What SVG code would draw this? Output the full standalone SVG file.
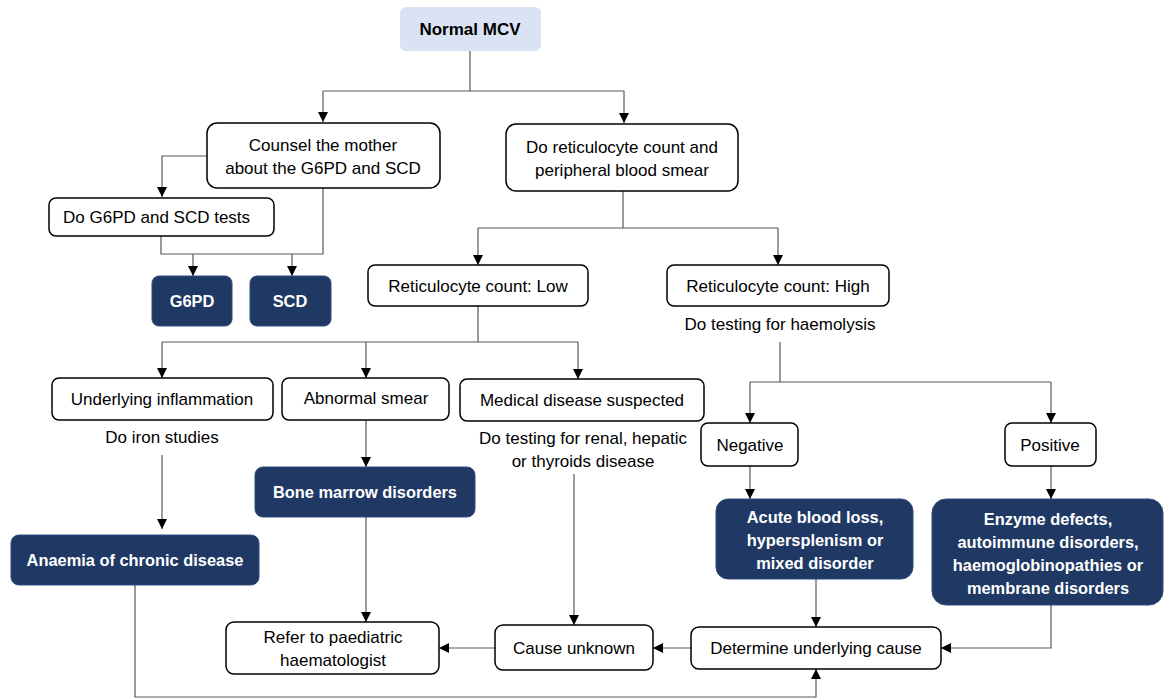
<svg xmlns="http://www.w3.org/2000/svg" width="1164" height="699" viewBox="0 0 1164 699">
  <style>
    .box { fill: #ffffff; stroke: #000000; stroke-width: 1.5; }
    .dark { fill: #203864; stroke: #2f4b7c; stroke-width: 1; }
    .top { fill: #dae3f3; stroke: none; }
    .t { font-family: "Liberation Sans", Arial, sans-serif; font-size: 17px; fill: #000000; text-anchor: middle; dominant-baseline: central; }
    .tb { font-family: "Liberation Sans", Arial, sans-serif; font-size: 16.4px; font-weight: bold; fill: #ffffff; text-anchor: middle; dominant-baseline: central; }
    .tk { font-family: "Liberation Sans", Arial, sans-serif; font-size: 17px; font-weight: bold; fill: #000000; text-anchor: middle; dominant-baseline: central; }
    .c { fill: none; stroke: #595959; stroke-width: 1.2; }
  </style>
  <defs>
    <marker id="arr" viewBox="0 0 10 10" refX="10" refY="5" markerWidth="10" markerHeight="10" markerUnits="userSpaceOnUse" orient="auto">
      <path d="M0,0 L10,5 L0,10 z" fill="#000000"/>
    </marker>
  </defs>

  <!-- connectors -->
  <g id="connectors">
    <path class="c" d="M470,51 V91 M323,91 H624"/>
    <path class="c" d="M323,91 V122" marker-end="url(#arr)"/>
    <path class="c" d="M624,91 V123" marker-end="url(#arr)"/>
    <path class="c" d="M207,156 H162 V197" marker-end="url(#arr)"/>
    <path class="c" d="M161,236 V254 H323 V188"/>
    <path class="c" d="M193,254 V276" marker-end="url(#arr)"/>
    <path class="c" d="M292,254 V276" marker-end="url(#arr)"/>
    <path class="c" d="M623,191 V228 M478,228 H778"/>
    <path class="c" d="M478,228 V265" marker-end="url(#arr)"/>
    <path class="c" d="M778,228 V265" marker-end="url(#arr)"/>
    <path class="c" d="M478,306 V342 M162,342 H578"/>
    <path class="c" d="M162,342 V378" marker-end="url(#arr)"/>
    <path class="c" d="M366,342 V378" marker-end="url(#arr)"/>
    <path class="c" d="M578,342 V379" marker-end="url(#arr)"/>
    <path class="c" d="M780,342 V382 M750,382 H1051"/>
    <path class="c" d="M750,382 V423" marker-end="url(#arr)"/>
    <path class="c" d="M1051,382 V423" marker-end="url(#arr)"/>
    <path class="c" d="M750,466 V499" marker-end="url(#arr)"/>
    <path class="c" d="M1051,466 V499" marker-end="url(#arr)"/>
    <path class="c" d="M366,420 V467" marker-end="url(#arr)"/>
    <path class="c" d="M162,455 V529" marker-end="url(#arr)"/>
    <path class="c" d="M366,517 V622" marker-end="url(#arr)"/>
    <path class="c" d="M574,474 V625" marker-end="url(#arr)"/>
    <path class="c" d="M816,579 V627" marker-end="url(#arr)"/>
    <path class="c" d="M1051,605 V648 H941" marker-end="url(#arr)"/>
    <path class="c" d="M691,648 H653" marker-end="url(#arr)"/>
    <path class="c" d="M495,648 H439" marker-end="url(#arr)"/>
    <path class="c" d="M135,585 V697 H816 V669" marker-end="url(#arr)"/>
  </g>

  <g id="normal-mcv">
    <rect class="top" x="400" y="7" width="141" height="44" rx="6"/>
    <text class="tk" x="470" y="29">Normal MCV</text>
  </g>

  <g id="counsel">
    <rect class="box" x="207" y="123" width="233" height="65" rx="10"/>
    <text class="t" x="323" y="145">Counsel the mother</text>
    <text class="t" x="323" y="168">about the G6PD and SCD</text>
  </g>

  <g id="retic-smear">
    <rect class="box" x="506" y="124" width="232" height="67" rx="10"/>
    <text class="t" x="622" y="147">Do reticulocyte count and</text>
    <text class="t" x="622" y="170">peripheral blood smear</text>
  </g>

  <g id="tests">
    <rect class="box" x="49" y="198" width="225" height="38" rx="7"/>
    <text class="t" x="63" y="217" style="text-anchor:start">Do G6PD and SCD tests</text>
  </g>

  <g id="g6pd">
    <rect class="dark" x="152" y="276" width="80" height="50" rx="7"/>
    <text class="tb" x="192" y="301">G6PD</text>
  </g>

  <g id="scd">
    <rect class="dark" x="250" y="276" width="81" height="50" rx="7"/>
    <text class="tb" x="290" y="301">SCD</text>
  </g>

  <g id="retic-low">
    <rect class="box" x="368" y="265" width="220" height="41" rx="7"/>
    <text class="t" x="478" y="286">Reticulocyte count: Low</text>
  </g>

  <g id="retic-high">
    <rect class="box" x="667" y="265" width="222" height="41" rx="7"/>
    <text class="t" x="778" y="286">Reticulocyte count: High</text>
    <text class="t" x="780" y="324">Do testing for haemolysis</text>
  </g>

  <g id="inflammation">
    <rect class="box" x="52" y="378" width="221" height="42" rx="7"/>
    <text class="t" x="162" y="399">Underlying inflammation</text>
    <text class="t" x="162" y="437">Do iron studies</text>
  </g>

  <g id="abnormal-smear">
    <rect class="box" x="282" y="378" width="167" height="42" rx="7"/>
    <text class="t" x="366" y="398">Abnormal smear</text>
  </g>

  <g id="medical-disease">
    <rect class="box" x="460" y="379" width="244" height="42" rx="7"/>
    <text class="t" x="582" y="400">Medical disease suspected</text>
    <text class="t" x="583" y="438">Do testing for renal, hepatic</text>
    <text class="t" x="583" y="461">or thyroids disease</text>
  </g>

  <g id="negative">
    <rect class="box" x="701" y="423" width="97" height="43" rx="7"/>
    <text class="t" x="750" y="445">Negative</text>
  </g>

  <g id="positive">
    <rect class="box" x="1005" y="423" width="91" height="43" rx="7"/>
    <text class="t" x="1050" y="445">Positive</text>
  </g>

  <g id="bone-marrow">
    <rect class="dark" x="255" y="467" width="220" height="50" rx="8"/>
    <text class="tb" x="365" y="492">Bone marrow disorders</text>
  </g>

  <g id="anaemia-chronic">
    <rect class="dark" x="11" y="535" width="248" height="50" rx="8"/>
    <text class="tb" x="135" y="560">Anaemia of chronic disease</text>
  </g>

  <g id="acute-loss">
    <rect class="dark" x="716" y="499" width="197" height="80" rx="12"/>
    <text class="tb" x="815" y="517">Acute blood loss,</text>
    <text class="tb" x="815" y="540">hypersplenism or</text>
    <text class="tb" x="815" y="563">mixed disorder</text>
  </g>

  <g id="enzyme">
    <rect class="dark" x="932" y="499" width="231" height="106" rx="14"/>
    <text class="tb" x="1048" y="519">Enzyme defects,</text>
    <text class="tb" x="1048" y="542">autoimmune disorders,</text>
    <text class="tb" x="1048" y="565">haemoglobinopathies or</text>
    <text class="tb" x="1048" y="588">membrane disorders</text>
  </g>

  <g id="refer">
    <rect class="box" x="226" y="622" width="213" height="52" rx="8"/>
    <text class="t" x="333" y="637">Refer to paediatric</text>
    <text class="t" x="333" y="660">haematologist</text>
  </g>

  <g id="cause-unknown">
    <rect class="box" x="495" y="625" width="158" height="45" rx="8"/>
    <text class="t" x="574" y="648">Cause unknown</text>
  </g>

  <g id="determine">
    <rect class="box" x="691" y="627" width="250" height="42" rx="8"/>
    <text class="t" x="816" y="648">Determine underlying cause</text>
  </g>
</svg>
